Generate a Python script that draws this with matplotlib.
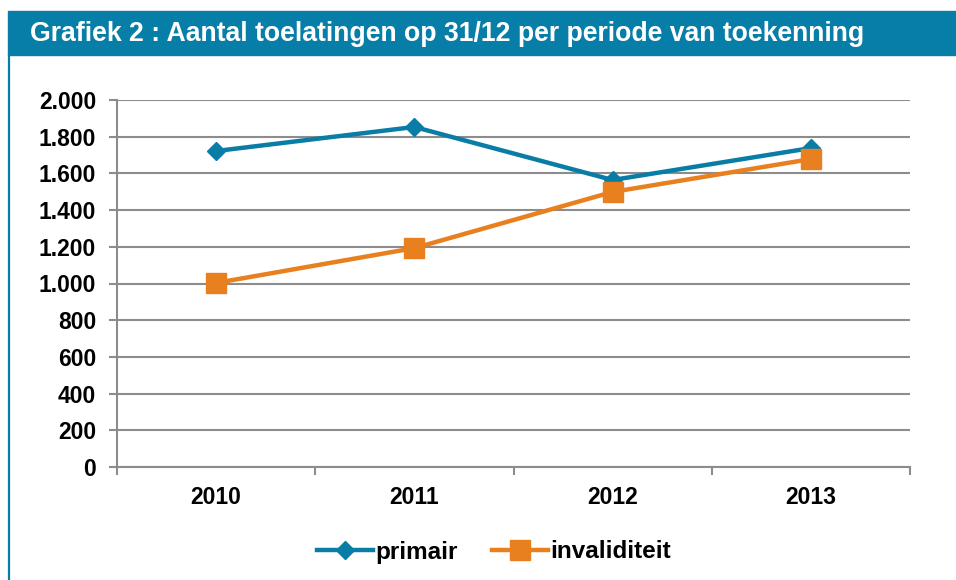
import matplotlib.pyplot as plt
from matplotlib.patches import Rectangle
from matplotlib.lines import Line2D

years = ["2010", "2011", "2012", "2013"]
primair = [1722, 1853, 1564, 1738]
invaliditeit = [1003, 1193, 1499, 1678]
y_ticks = [0, 200, 400, 600, 800, 1000, 1200, 1400, 1600, 1800, 2000]

blue = "#0a7da6"
orange = "#e8801f"
grid_col = "#8c8c8c"

plt.rcParams["font.family"] = ["Liberation Sans", "DejaVu Sans"]
plt.rcParams["font.weight"] = "bold"

W, H = 956, 580
fig = plt.figure(figsize=(W / 100, H / 100), dpi=100)

# title bar and left border
fig.patches.append(Rectangle((8 / W, 1 - 55 / H), 1 - 8 / W, 44 / H,
                             transform=fig.transFigure, color="#077ea7", zorder=0))
fig.lines.append(Line2D([9 / W, 9 / W], [0, 1 - 55 / H], transform=fig.transFigure,
                        color="#077ea7", lw=1.6))
fig.text(30 / W, 1 - 34 / H, "Grafiek 2 : Aantal toelatingen op 31/12 per periode van toekenning",
         color="white", fontsize=19.2, fontweight="bold", va="center", ha="left")

ax = fig.add_axes([117 / W, 1 - 467 / H, (910 - 117) / W, (467 - 100) / H])
x = range(len(years))
ax.plot(x, primair, color=blue, lw=3.2, marker="D", markersize=9,
        label="primair", zorder=3)
ax.plot(x, invaliditeit, color=orange, lw=3.2, marker="s", markersize=14,
        label="invaliditeit", zorder=4)

ax.set_xlim(-0.5, 3.5)
ax.set_ylim(0, 2000)
ax.set_yticks(y_ticks)
ax.set_yticklabels([f"{v:,}".replace(",", ".") for v in y_ticks])
ax.set_xticks(list(x))
ax.set_xticklabels(years)
ax.set_xticks([-0.5, 0.5, 1.5, 2.5, 3.5], minor=True)
ax.tick_params(axis="x", which="major", length=0, pad=14, labelsize=16.5)
ax.tick_params(axis="x", which="minor", length=6, width=1.5, color=grid_col, direction="out")
ax.tick_params(axis="y", length=6, width=1.5, color=grid_col, labelsize=16.5, pad=9)
for lab in ax.get_xticklabels() + ax.get_yticklabels():
    lab.set_fontweight("bold")

ax.grid(axis="y", color=grid_col, lw=1.5)
ax.set_axisbelow(True)
for s in ["top", "right"]:
    ax.spines[s].set_visible(False)
for s in ["left", "bottom"]:
    ax.spines[s].set_color(grid_col)
    ax.spines[s].set_linewidth(1.5)

leg = fig.legend(loc="center", bbox_to_anchor=(0.517, 1 - 552 / H), ncol=2, frameon=False,
                 handlelength=2.3, handletextpad=0.1, columnspacing=1.4,
                 prop={"weight": "bold", "size": 17.5})

fig.savefig("out.png", dpi=100)
